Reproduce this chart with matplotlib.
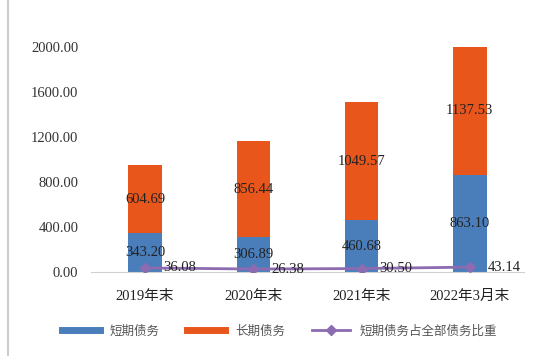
import matplotlib
matplotlib.use("Agg")
import matplotlib.pyplot as plt
from matplotlib.lines import Line2D

# 数据
periods = ["2019年末", "2020年末", "2021年末", "2022年3月末"]
short_debt = [343.20, 306.89, 460.68, 863.10]
long_debt = [604.69, 856.44, 1049.57, 1137.53]
short_ratio = [36.08, 26.38, 30.50, 43.14]
yticks = [0, 400, 800, 1200, 1600, 2000]

c_short = "#4a7ebb"
c_long = "#e8561c"
c_ratio = "#8c6bb1"
serif = ["Liberation Serif", "Noto Sans CJK SC"]

fig = plt.figure(figsize=(5.38, 3.56), dpi=100)
ax = fig.add_axes([0.169, 0.236, 0.805, 0.632])

x = list(range(len(periods)))
w = 0.31
ax.bar(x, short_debt, width=w, color=c_short, clip_on=False, zorder=2)
ax.bar(x, long_debt, width=w, bottom=short_debt, color=c_long, clip_on=False, zorder=2)
ax.plot(x, short_ratio, color=c_ratio, lw=2, marker="D", ms=5, zorder=3)

# 数据标签
for i in x:
    ax.text(i, short_debt[i] / 2, f"{short_debt[i]:.2f}", ha="center", va="center",
            fontsize=10.5, family=serif, color="#222222", zorder=4)
    ax.text(i, short_debt[i] + long_debt[i] / 2, f"{long_debt[i]:.2f}", ha="center",
            va="center", fontsize=10.5, family=serif, color="#222222", zorder=4)
    ax.text(i + w / 2 + 0.01, short_ratio[i], f"{short_ratio[i]:.2f}", ha="left", va="center",
            fontsize=10.5, family=serif, color="#222222", zorder=4)

ax.set_xlim(-0.5, 3.5)
ax.set_ylim(0, 2000)
ax.set_yticks(yticks)
ax.set_yticklabels([f"{v:.2f}" for v in yticks], family=serif, fontsize=10.5, color="#333333")
ax.set_xticks(x)
ax.set_xticklabels(periods, family=serif, fontsize=10.5, color="#222222")
ax.tick_params(length=0)
ax.tick_params(axis="y", pad=9)
ax.tick_params(axis="x", pad=13)
for s in ["top", "right", "left"]:
    ax.spines[s].set_visible(False)
ax.spines["bottom"].set_color("#d0d0d0")

handles = [
    Line2D([], [], color=c_short, lw=5),
    Line2D([], [], color=c_long, lw=5),
    Line2D([], [], color=c_ratio, lw=2, marker="D", ms=5),
]
labels = ["短期债务", "长期债务", "短期债务占全部债务比重"]
fig.legend(handles, labels, loc="center", bbox_to_anchor=(0.52, 0.07), ncol=3,
           frameon=False, prop={"family": ["Noto Sans CJK SC"], "size": 9},
           handlelength=3, columnspacing=2.2, labelcolor="#555555")

fig.add_artist(Line2D([0.015, 0.015], [0, 1], color="#cccccc", lw=1.5))

fig.savefig("out.png", dpi=100)
